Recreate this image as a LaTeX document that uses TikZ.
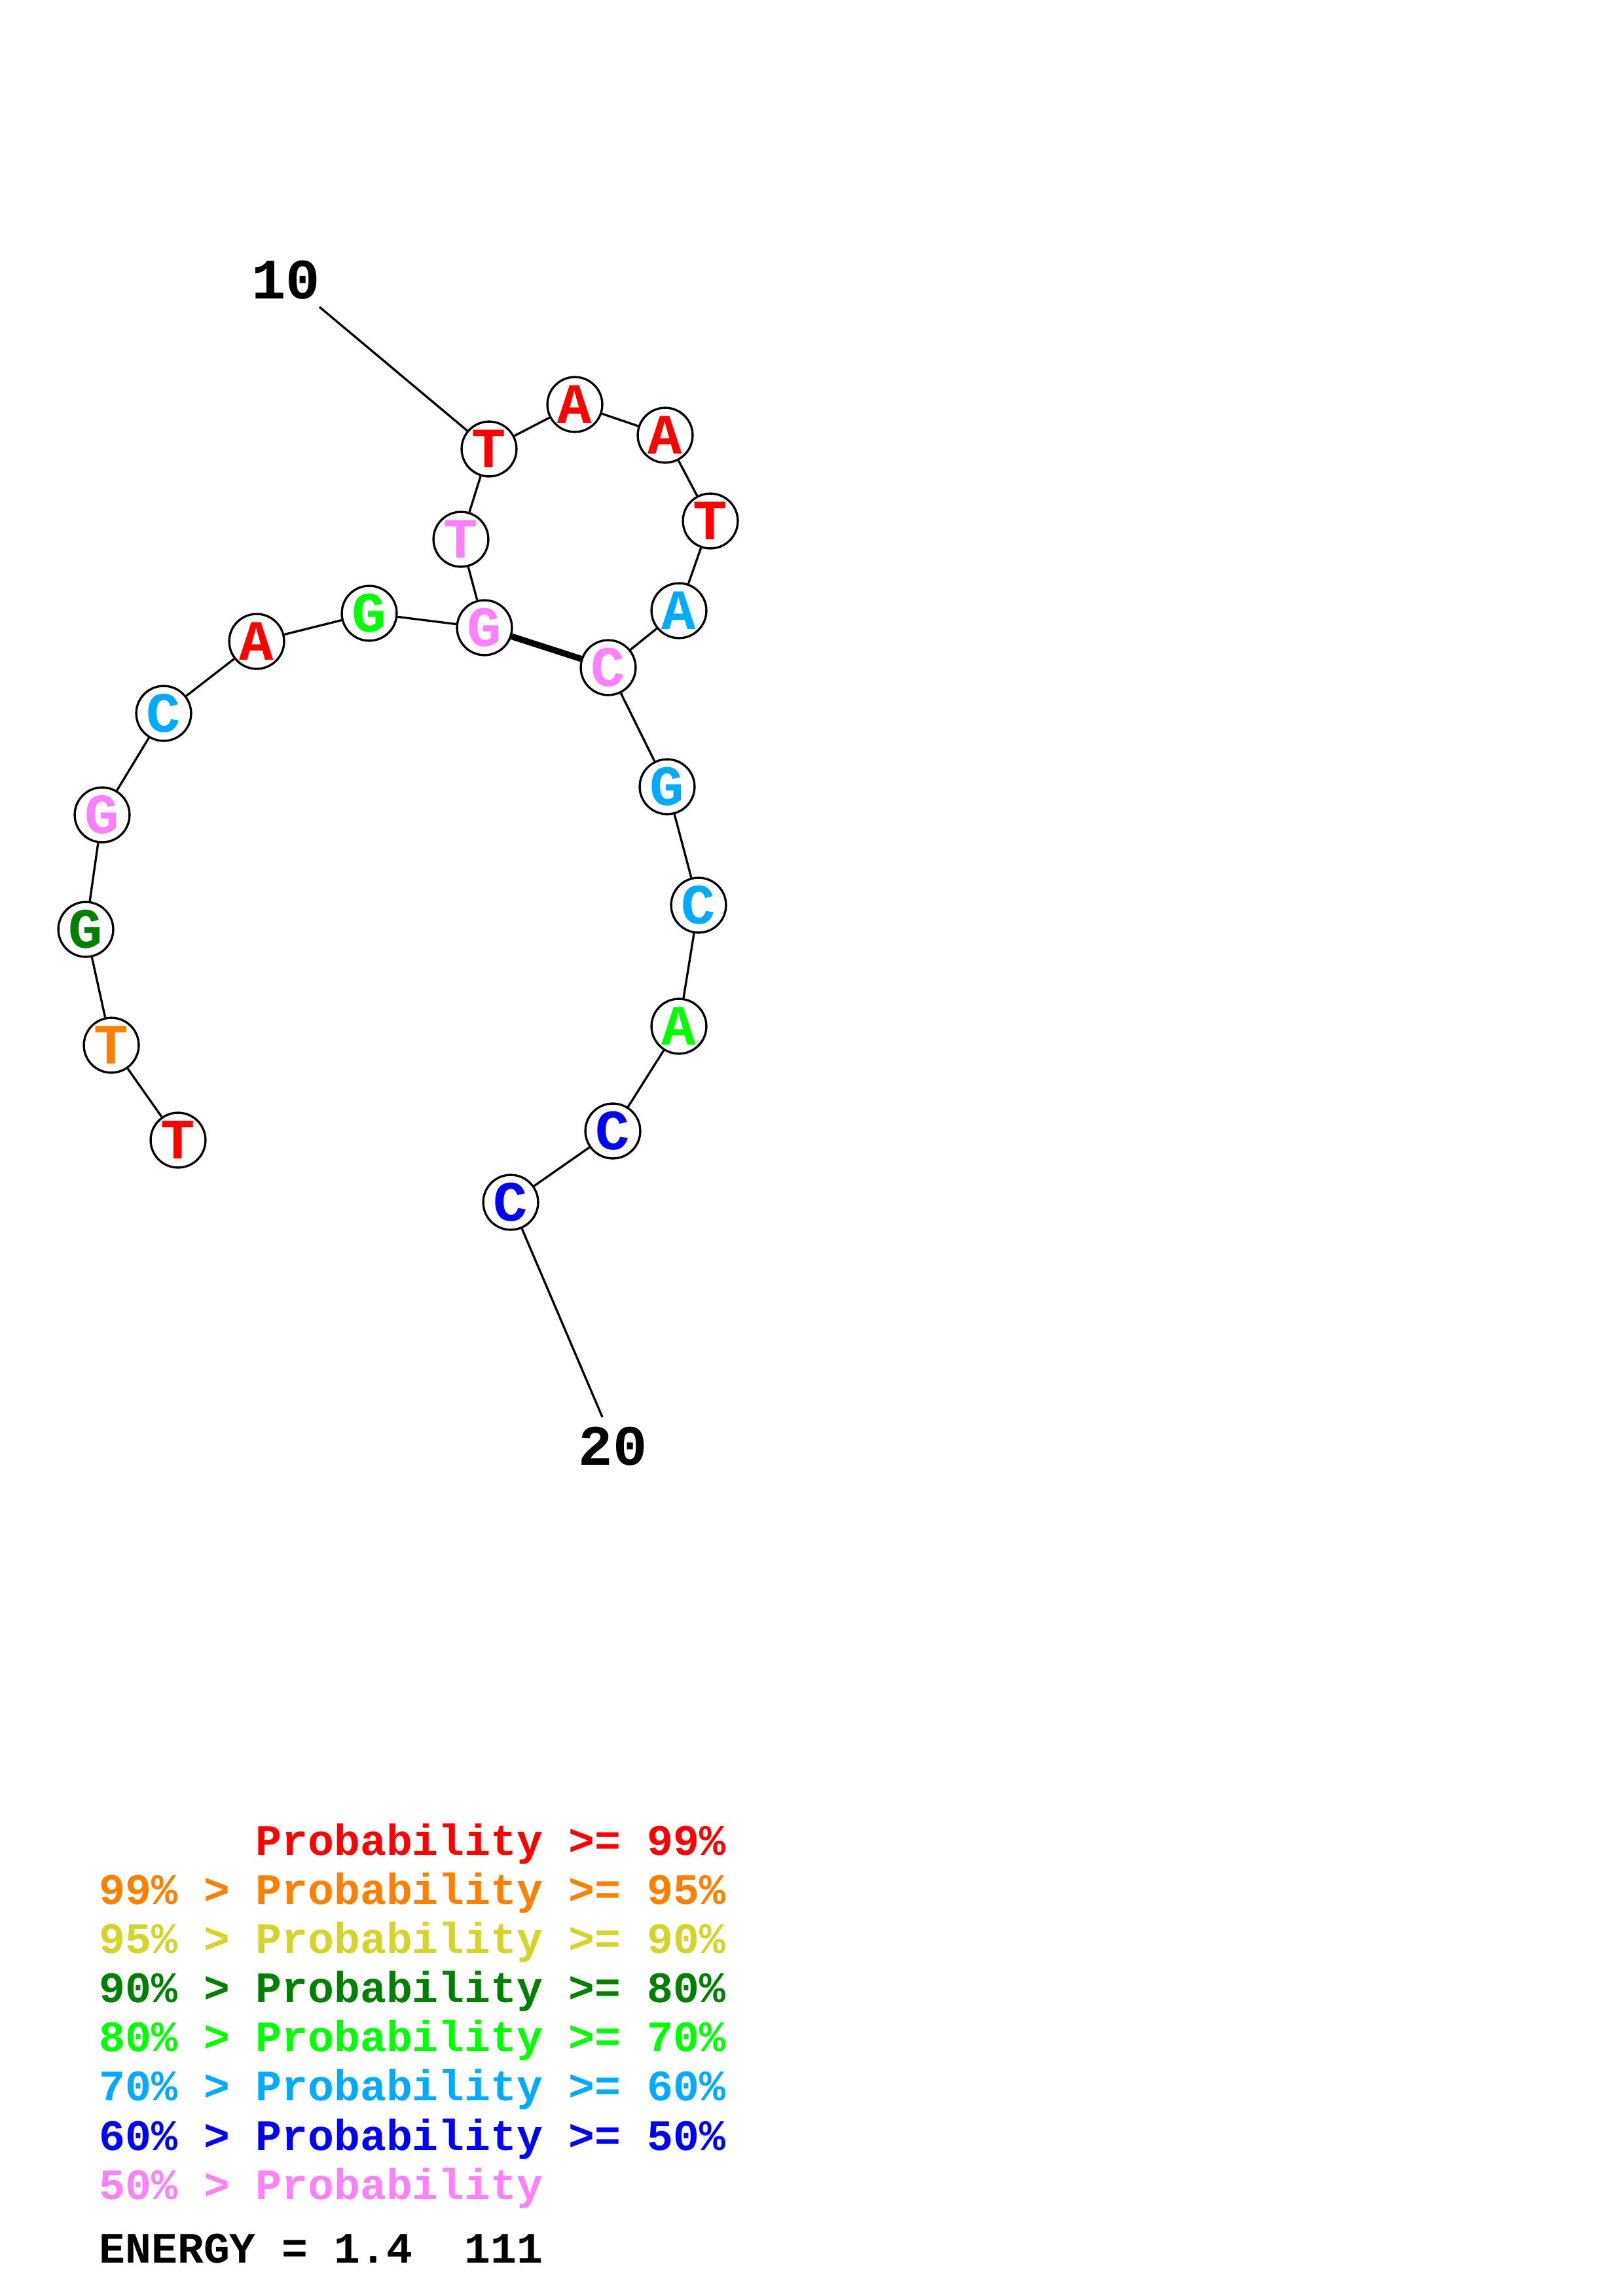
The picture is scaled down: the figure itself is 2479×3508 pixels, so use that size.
\documentclass[tikz,border=0pt]{standalone}
\usepackage{fontspec}
\usepackage{tikz}
\usetikzlibrary{positioning}
\newfontfamily\seqfont{Liberation Mono}

\definecolor{pr99}{RGB}{255,0,0}
\definecolor{pr95}{RGB}{255,128,0}
\definecolor{pr90}{RGB}{212,212,42}
\definecolor{pr80}{RGB}{0,128,0}
\definecolor{pr70}{RGB}{0,255,0}
\definecolor{pr60}{RGB}{0,170,255}
\definecolor{pr50}{RGB}{0,0,255}
\definecolor{pr00}{RGB}{255,128,255}

\begin{document}
\begin{tikzpicture}[x=0.2409pt,y=-0.2409pt,line width=0.8pt,
  base/.style={circle,draw,fill=white,inner sep=0pt,minimum size=20.2pt,
    font=\seqfont\bfseries\fontsize{21pt}{21pt}\selectfont},
  numlabel/.style={anchor=base,font=\seqfont\bfseries\fontsize{21pt}{21pt}\selectfont},
  legend/.style={anchor=base west,inner sep=0pt,font=\seqfont\bfseries\fontsize{16pt}{16pt}\selectfont},
  pair/.style={line width=2.3pt}]

  \useasboundingbox (0,0) rectangle (2479,3508);

  \node[base, text=pr99] (n1)  at (272,1742)  {T};
  \node[base, text=pr95] (n2)  at (170,1597)  {T};
  \node[base, text=pr80] (n3)  at (131,1420)  {G};
  \node[base, text=pr00] (n4)  at (156,1245)  {G};
  \node[base, text=pr60] (n5)  at (250,1090)  {C};
  \node[base, text=pr99] (n6)  at (392,980)   {A};
  \node[base, text=pr70] (n7)  at (564,937)   {G};
  \node[base, text=pr00] (n8)  at (740,959)   {G};
  \node[base, text=pr00] (n9)  at (704,824)   {T};
  \node[base, text=pr99] (n10) at (747,686)   {T};
  \node[base, text=pr99] (n11) at (878,618)   {A};
  \node[base, text=pr99] (n12) at (1016,665)  {A};
  \node[base, text=pr99] (n13) at (1085,796)  {T};
  \node[base, text=pr60] (n14) at (1037,933)  {A};
  \node[base, text=pr00] (n15) at (929,1020)  {C};
  \node[base, text=pr60] (n16) at (1019,1202) {G};
  \node[base, text=pr60] (n17) at (1067,1383) {C};
  \node[base, text=pr70] (n18) at (1037,1568) {A};
  \node[base, text=pr50] (n19) at (936,1728)  {C};
  \node[base, text=pr50] (n20) at (780,1837)  {C};

  \node[numlabel] (l10) at (437,456)  {10};
  \node[numlabel] (l20) at (936,2238) {20};
  \coordinate (t10) at (488,469);
  \coordinate (t20) at (920,2165);

  \path (n1) edge (n2)
        (n2) edge (n3)
        (n3) edge (n4)
        (n4) edge (n5)
        (n5) edge (n6)
        (n6) edge (n7)
        (n7) edge (n8)
        (n8) edge (n9)
        (n9) edge (n10)
        (n10) edge (n11)
        (n11) edge (n12)
        (n12) edge (n13)
        (n13) edge (n14)
        (n14) edge (n15)
        (n15) edge (n16)
        (n16) edge (n17)
        (n17) edge (n18)
        (n18) edge (n19)
        (n19) edge (n20)
        (n8) edge [pair] (n15)
        (t10) edge (n10)
        (n20) edge (t20);

  % legend
  \node[legend, text=pr99] (k1) at (150,2834) {~~~~~~Probability~>=~99\%};
  \node[legend, text=pr95] (k2) at (150,2909) {99\%~>~Probability~>=~95\%};
  \node[legend, text=pr90] (k3) at (150,2984) {95\%~>~Probability~>=~90\%};
  \node[legend, text=pr80] (k4) at (150,3059) {90\%~>~Probability~>=~80\%};
  \node[legend, text=pr70] (k5) at (150,3134) {80\%~>~Probability~>=~70\%};
  \node[legend, text=pr60] (k6) at (150,3209) {70\%~>~Probability~>=~60\%};
  \node[legend, text=pr50] (k7) at (150,3285) {60\%~>~Probability~>=~50\%};
  \node[legend, text=pr00] (k8) at (150,3360) {50\%~>~Probability};
  \node[legend] (energy) at (150,3457) {ENERGY~=~1.4~~111};
\end{tikzpicture}
\end{document}
